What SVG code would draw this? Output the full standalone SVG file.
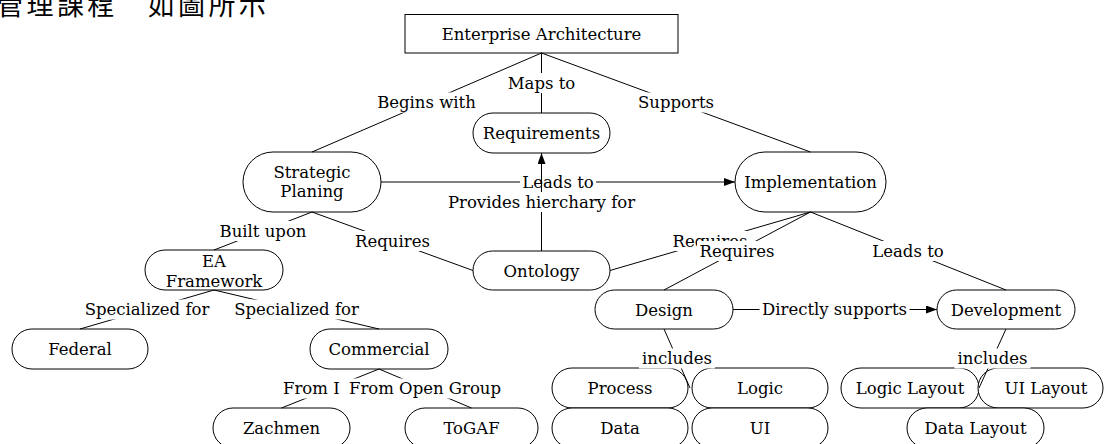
<svg xmlns="http://www.w3.org/2000/svg" width="1104" height="444" viewBox="0 0 1104 444">
<defs>
<marker id="arr" markerUnits="userSpaceOnUse" markerWidth="12" markerHeight="10" refX="11" refY="4" orient="auto">
<path d="M0,0 L11,4 L0,8 z" fill="#000"/>
</marker>
<style>
.n{fill:#fff;stroke:#000;stroke-width:1}
.t{font-family:"DejaVu Serif","Liberation Serif",serif;font-size:16.5px;fill:#000;text-anchor:middle}
.l{stroke:#000;stroke-width:1;fill:none}
.b{fill:#fff;stroke:none}
.cjk{font-family:"Noto Sans CJK TC","Noto Sans CJK SC",sans-serif;font-size:27px;fill:#000}
</style>
</defs>
<rect width="1104" height="444" fill="#fff"/>
<text class="cjk" x="-3.7" y="15" letter-spacing="3.3">管理課程　如圖所示</text>

<g id="nodes">
<g id="ea"><rect class="n" x="405" y="14.5" width="273" height="38.5"/><text class="t" x="541.5" y="40">Enterprise Architecture</text></g>
<g id="req"><rect class="n" x="473" y="113" width="137" height="40" rx="20"/><text class="t" x="541.5" y="139">Requirements</text></g>
<g id="sp"><rect class="n" x="243" y="152" width="138" height="60" rx="30"/><text class="t" x="312" y="178">Strategic</text><text class="t" x="312" y="197">Planing</text></g>
<g id="impl"><rect class="n" x="735" y="152" width="151" height="60" rx="30"/><text class="t" x="810.5" y="188">Implementation</text></g>
<g id="onto"><rect class="n" x="473" y="251" width="137" height="39" rx="19.5"/><text class="t" x="541.5" y="276.5">Ontology</text></g>
<g id="eaf"><rect class="n" x="145" y="250" width="138" height="40" rx="20"/><text class="t" x="214" y="267">EA</text><text class="t" x="214" y="287">Framework</text></g>
<g id="fed"><rect class="n" x="12" y="329" width="136" height="40" rx="20"/><text class="t" x="80" y="355">Federal</text></g>
<g id="com"><rect class="n" x="310" y="329" width="138" height="40" rx="20"/><text class="t" x="379" y="355">Commercial</text></g>
<g id="zach"><rect class="n" x="213" y="408" width="137" height="40" rx="20"/><text class="t" x="281.5" y="434">Zachmen</text></g>
<g id="togaf"><rect class="n" x="405" y="408" width="133" height="40" rx="20"/><text class="t" x="471.5" y="434">ToGAF</text></g>
<g id="design"><rect class="n" x="595" y="290" width="138" height="39" rx="19.5"/><text class="t" x="664" y="316">Design</text></g>
<g id="dev"><rect class="n" x="937" y="290" width="138" height="39" rx="19.5"/><text class="t" x="1006" y="316">Development</text></g>
<g id="process"><rect class="n" x="552" y="368" width="136" height="40" rx="20"/><text class="t" x="620" y="394">Process</text></g>
<g id="logic"><rect class="n" x="692" y="368" width="136" height="40" rx="20"/><text class="t" x="760" y="394">Logic</text></g>
<g id="data"><rect class="n" x="552" y="408" width="136" height="40" rx="20"/><text class="t" x="620" y="434">Data</text></g>
<g id="ui"><rect class="n" x="692" y="408" width="136" height="40" rx="20"/><text class="t" x="760" y="434">UI</text></g>
<g id="logiclayout"><rect class="n" x="841" y="368" width="138" height="40" rx="20"/><text class="t" x="910" y="394">Logic Layout</text></g>
<g id="uilayout"><rect class="n" x="978" y="368" width="125" height="40" rx="20"/><text class="t" x="1046" y="394">UI Layout</text></g>
<g id="datalayout"><rect class="n" x="907" y="408" width="137" height="40" rx="20"/><text class="t" x="975.5" y="434">Data Layout</text></g>
</g>

<g id="connectors">
<g><line class="l" x1="541.5" y1="53" x2="312" y2="152"/><rect class="b" x="373" y="92.5" width="107" height="20"/><text class="t" x="426.5" y="108">Begins with</text></g>
<g><line class="l" x1="541.5" y1="53" x2="541.5" y2="113"/><rect class="b" x="504.5" y="73" width="74" height="20"/><text class="t" x="541.5" y="88.5">Maps to</text></g>
<g><line class="l" x1="541.5" y1="53" x2="810.5" y2="152"/><rect class="b" x="635.5" y="92.5" width="81" height="20"/><text class="t" x="676" y="108">Supports</text></g>
<g><line class="l" x1="381" y1="182" x2="735" y2="182" marker-end="url(#arr)"/><rect class="b" x="520" y="172" width="76" height="20"/><text class="t" x="558" y="187.5">Leads to</text></g>
<g><line class="l" x1="541.5" y1="251" x2="541.5" y2="153" marker-end="url(#arr)"/><rect class="b" x="442.5" y="192" width="198" height="20"/><text class="t" x="541.5" y="207.5">Provides hierchary for</text></g>
<g><line class="l" x1="312" y1="212" x2="214" y2="250"/><rect class="b" x="215" y="221" width="96" height="20"/><text class="t" x="263" y="236.5">Built upon</text></g>
<g><line class="l" x1="312" y1="212" x2="473" y2="270.5"/><rect class="b" x="352.5" y="231" width="80" height="20"/><text class="t" x="392.5" y="246.5">Requires</text></g>
<g><line class="l" x1="810.5" y1="212" x2="610" y2="270.5"/><rect class="b" x="670" y="231" width="80" height="20"/><text class="t" x="710" y="246.5">Requires</text></g>
<g><line class="l" x1="810.5" y1="212" x2="664" y2="290"/><rect class="b" x="697" y="241" width="80" height="20"/><text class="t" x="737" y="256.5">Requires</text></g>
<g><line class="l" x1="810.5" y1="212" x2="1006" y2="290"/><rect class="b" x="869" y="241" width="78" height="20"/><text class="t" x="908" y="256.5">Leads to</text></g>
<g><line class="l" x1="733" y1="309.5" x2="937" y2="309.5" marker-end="url(#arr)"/><rect class="b" x="759.5" y="299.5" width="150" height="20"/><text class="t" x="834.5" y="315">Directly supports</text></g>
<g><line class="l" x1="214" y1="290" x2="80" y2="329"/><rect class="b" x="80" y="299.5" width="134" height="20"/><text class="t" x="147" y="315">Specialized for</text></g>
<g><line class="l" x1="214" y1="290" x2="379" y2="329"/><rect class="b" x="229.5" y="299.5" width="134" height="20"/><text class="t" x="296.5" y="315">Specialized for</text></g>
<g><line class="l" x1="379" y1="369" x2="281.5" y2="408"/><rect class="b" x="282" y="378.5" width="62" height="20"/><text class="t" x="283" y="394" style="text-anchor:start">From I</text></g>
<g><line class="l" x1="379" y1="369" x2="471.5" y2="408"/><rect class="b" x="343" y="378.5" width="164" height="20"/><text class="t" x="425" y="394">From Open Group</text></g>
<g><line class="l" x1="664" y1="329" x2="690" y2="388"/><rect class="b" x="639" y="348.5" width="76" height="20"/><text class="t" x="677" y="364">includes</text></g>
<g><line class="l" x1="1006" y1="329" x2="979" y2="388"/><rect class="b" x="954.5" y="348.5" width="76" height="20"/><text class="t" x="992.5" y="364">includes</text></g>
</g>
</svg>
